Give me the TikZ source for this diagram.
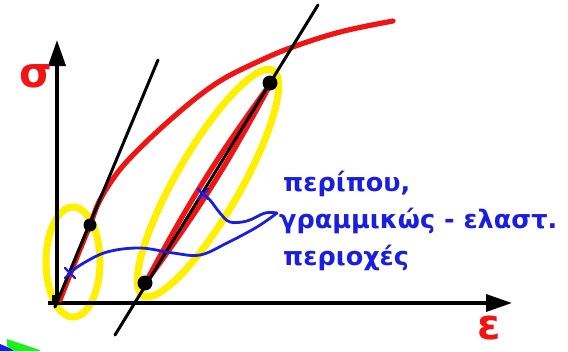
\documentclass[tikz,border=0pt]{standalone}
\usepackage{fontspec}
\newfontfamily\grk{DejaVu Sans}
\usetikzlibrary{arrows.meta,calc}
\definecolor{hl}{RGB}{255,240,0}
\definecolor{rd}{RGB}{240,20,20}
\definecolor{bl}{RGB}{25,30,225}
\definecolor{gr}{RGB}{30,240,30}
\begin{document}
\begin{tikzpicture}[x=1pt,y=-1pt,
  axis/.style={line width=3.6pt, -{Triangle[length=26pt,width=17pt]}},
  redline/.style={rd, line width=5.2pt, line cap=round, line join=round},
  tangent/.style={black, line width=3pt, line cap=round},
  hilite/.style={hl, line width=7pt},
  conn/.style={bl, line width=2.8pt, line cap=round, line join=round},
  dotnode/.style={circle, fill=black, inner sep=0pt, minimum size=#1},
  txt/.style={bl, font=\grk\bfseries\fontsize{25.5}{30}\selectfont, inner sep=0pt, anchor=base west},
  sym/.style={rd, font=\grk\bfseries\fontsize{42}{42}\selectfont, inner sep=0pt}]
\useasboundingbox (0,0) rectangle (568,351);
\fill[white] (0,0) rectangle (568,351);
% corner artifacts
\fill[bl] (0,344) -- (17,351) -- (0,351) -- cycle;
\fill[gr] (7,339) -- (40,350) -- (40,351) -- (14,351) -- (7,346) -- cycle;
% highlight ellipses
\draw[hilite] (73,262) ellipse [x radius=27pt, y radius=55pt];
\draw[hilite] (208,183) [rotate around={60:(208,183)}] ellipse [x radius=130pt, y radius=32pt];
% axes
\coordinate (o) at (57,305);
\coordinate (ytip) at (57,40);
\coordinate (xo) at (48,303);
\coordinate (xtip) at (512,303);
\draw[axis] (o) -- (ytip);
\draw[axis] (xo) -- (xtip);
\fill[black] (52,295) rectangle (62,305);
\node[sym] (sig) at (36,76) {σ};
\node[sym] (eps) at (489,328) {ε};
% stress-strain curve
\draw[redline] plot[smooth, tension=0.6] coordinates {(60,300) (75,262) (90,225) (100,200) (118,172) (140,148) (170,120) (200,95) (225,78) (255,63) (290,48) (340,32) (393,21)};
% unloading/reloading loop
\draw[redline] (146,282) to[bend left=4] (271,83) to[bend left=4] (146,282);
% tangent lines
\coordinate (t1a) at (55,307);
\coordinate (t1b) at (158,60);
\coordinate (t2a) at (115,335);
\coordinate (t2b) at (318,5);
\draw[tangent] (t1a) -- (t1b);
\draw[tangent] (t2a) -- (t2b);
% points
\node[dotnode=13pt] (p1) at (90,225) {};
\node[dotnode=15pt] (p2) at (145,283) {};
\node[dotnode=15pt] (p3) at (270,83) {};
% text
\node[txt] (l1) at (283,191) {περίπου,};
\node[txt] (l2) at (279,228) {γραμμικώς - ελαστ.};
\node[txt] (l3) at (283,265) {περιοχές};
% connectors
\coordinate (tip) at (277,213);
\coordinate (xa) at (70,273);
\coordinate (xb) at (203,194);
\draw[conn] plot[smooth, tension=0.6] coordinates {(tip) (265,213) (247,221) (230,222) (220,213) (210,200) (xb)};
\draw[conn] plot[smooth, tension=0.6] coordinates {(tip) (257,227) (227,243) (200,255) (173,253) (140,248) (107,252) (82,264) (xa)};
\draw[conn, line width=2.2pt] ($(xa)+(-5,-5)$) -- ($(xa)+(5,5)$) ($(xa)+(-5,5)$) -- ($(xa)+(5,-5)$);
\draw[conn, line width=2.2pt] ($(xb)+(-5,-5)$) -- ($(xb)+(5,5)$) ($(xb)+(-5,5)$) -- ($(xb)+(5,-5)$);
\end{tikzpicture}
\end{document}
